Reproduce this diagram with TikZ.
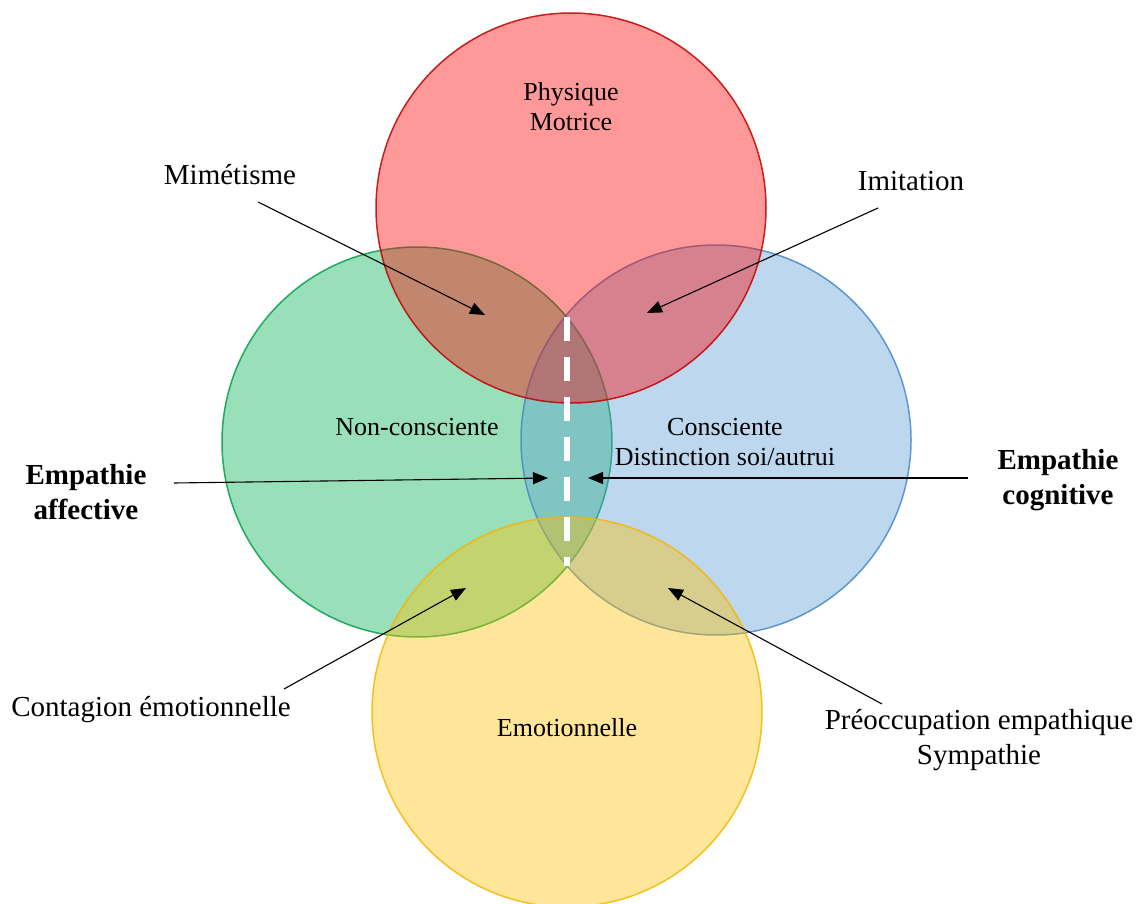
\documentclass[tikz,border=0pt]{standalone}
\usepackage{fontspec}
\setmainfont{Liberation Serif}
\usepackage{tikz}
\usetikzlibrary{
    arrows.meta,
    positioning
}
\definecolor{physfill}{HTML}{FF0000}
\definecolor{physline}{HTML}{C00000}
\definecolor{ncfill}{HTML}{00B050}
\definecolor{ncline}{HTML}{00A04A}
\definecolor{consfill}{HTML}{5B9BD5}
\definecolor{consline}{HTML}{4A88C4}
\definecolor{emofill}{HTML}{FFC000}
\definecolor{emoline}{HTML}{F2B705}
\tikzset{zone/.style={circle, inner sep=0pt, minimum size=390pt, line width=1.5pt, fill opacity=0.4, draw opacity=0.85}}
\tikzset{intext/.style={align=center, font=\fontsize{26}{30}\selectfont}}
\tikzset{outtext/.style={align=center, font=\fontsize{29}{35}\selectfont}}
\tikzset{pointer/.style={line width=1.1pt, -{Triangle[length=15pt,width=12pt]}}}

\begin{document}
\begin{tikzpicture}[x=1pt, y=-1pt]
                        \useasboundingbox (0, 0) rectangle (1143, 904);

                        \node[zone, draw=ncline, fill=ncfill] (nc) at (417, 442) {};
                        \node[zone, draw=consline, fill=consfill] (cons) at (716, 440) {};
                        \node[zone, draw=emoline, fill=emofill] (emo) at (567, 712) {};
                        \node[zone, draw=physline, fill=physfill] (phys) at (571, 208) {};

                        \coordinate (sepTop) at (567, 317);
                        \coordinate (sepBot) at (567, 566);
                        \draw[white, line width=5.5pt, dash pattern=on 24pt off 16pt] (sepTop) -- (sepBot);

                        \node[intext] (physL) at (571, 107) {Physique\\Motrice};
                        \node[intext] (ncL) at (417, 427) {Non-consciente};
                        \node[intext] (consL) at (725, 442) {Consciente\\Distinction soi/autrui};
                        \node[intext] (emoL) at (567, 728) {Emotionnelle};

                        \node[outtext] (mim) at (230, 175) {Mimétisme};
                        \node[outtext] (imi) at (911, 181) {Imitation};
                        \node[outtext] (aff) at (86, 492) {\textbf{Empathie}\\\textbf{affective}};
                        \node[outtext] (cog) at (1058, 480) {\textbf{Empathie}\\\textbf{cognitive}};
                        \node[outtext] (cont) at (151, 710) {Contagion émotionnelle};
                        \node[outtext] (preo) at (979, 740) {Préoccupation empathique\\Sympathie};

                        \coordinate (mimFrom) at (258, 202);
                        \coordinate (mimTo) at (485, 315);
                        \coordinate (imiFrom) at (878, 208);
                        \coordinate (imiTo) at (647, 313);
                        \coordinate (affFrom) at (174, 483);
                        \coordinate (affTo) at (548, 478);
                        \coordinate (cogFrom) at (968, 478);
                        \coordinate (cogTo) at (588, 478);
                        \coordinate (contFrom) at (284, 689);
                        \coordinate (contTo) at (466, 588);
                        \coordinate (preoFrom) at (882, 704);
                        \coordinate (preoTo) at (668, 588);

                        \draw
                        (mimFrom) edge[pointer] (mimTo)
                        (imiFrom) edge[pointer] (imiTo)
                        (affFrom) edge[pointer] (affTo)
                        (cogFrom) edge[pointer] (cogTo)
                        (contFrom) edge[pointer] (contTo)
                        (preoFrom) edge[pointer] (preoTo);
                    \end{tikzpicture}
\end{document}
